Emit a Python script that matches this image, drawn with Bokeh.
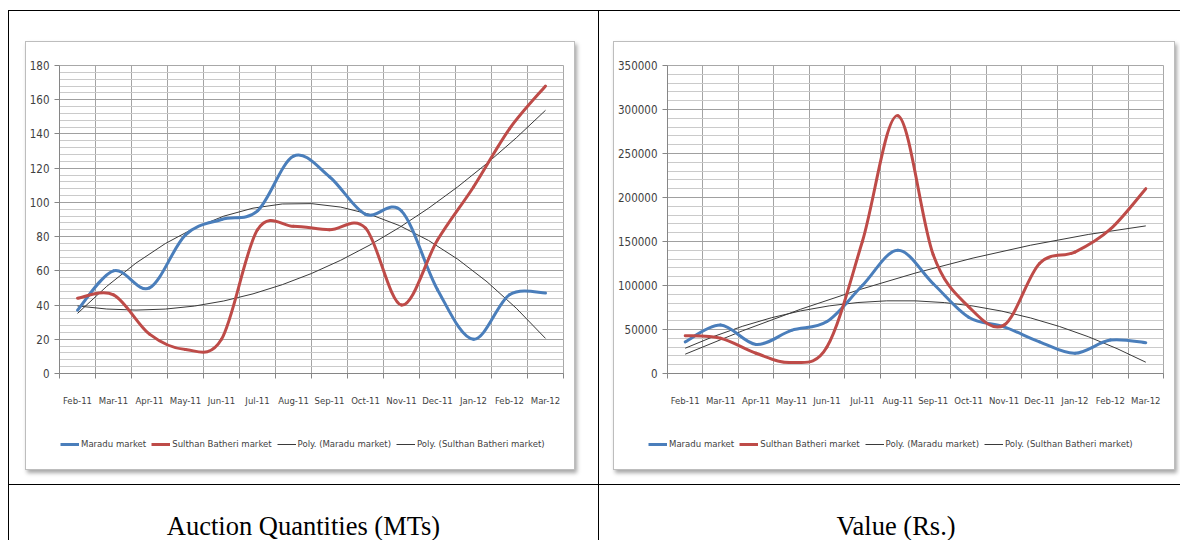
import numpy as np
from bokeh.plotting import figure
from bokeh.models import (ColumnDataSource, Range1d, FixedTicker, BasicTickFormatter,
                          Legend, LegendItem, Div)
from bokeh.layouts import column, row
from bokeh.embed import file_html
from bokeh.resources import INLINE

# ---- data -------------------------------------------------------------
months = ["Feb-11", "Mar-11", "Apr-11", "May-11", "Jun-11", "Jul-11", "Aug-11",
          "Sep-11", "Oct-11", "Nov-11", "Dec-11", "Jan-12", "Feb-12", "Mar-12"]

# auction quantities (MTs)
qty_maradu = [37, 60, 50, 81, 90, 95, 127, 115, 93, 95, 49, 20, 46, 47]
qty_sulthan = [44, 46, 23, 14, 20, 84, 86, 84, 85, 40, 78, 109, 143, 168]

# auction value (Rs.)
val_maradu = [36000, 55000, 33000, 49000, 59000, 100000, 140000, 102000,
              64000, 53000, 36000, 23000, 38000, 35000]
val_sulthan = [43000, 40000, 23000, 12500, 30000, 150000, 293000, 135000,
               76000, 55000, 125000, 138000, 164000, 210000]

series_names = ["Maradu market", "Sulthan Batheri market"]
trend_names = ["Poly. (Maradu market)", "Poly. (Sulthan Batheri market)"]
captions = ["Auction Quantities (MTs)", "Value (Rs.)"]

# ---- styling ----------------------------------------------------------
BLUE = "#4a7ebb"
RED = "#be4b48"
TREND = "#3a3a3a"
CHART_FONT = "DejaVu Sans Condensed"
TEXT = "#3f3f3f"
RULE = "1px solid #000000"
BOX = {"border": "1px solid #bdbdbd", "box-shadow": "2px 3px 4px rgba(0,0,0,0.35)",
       "background": "#ffffff"}


def smooth_source(values):
    """Cubic Bezier segments through every point (Excel-style smoothed line)."""
    xs = list(range(len(values)))
    n = len(xs)
    d = dict(x0=[], y0=[], x1=[], y1=[], cx0=[], cy0=[], cx1=[], cy1=[])
    for i in range(n - 1):
        a = max(i - 1, 0)
        b = min(i + 2, n - 1)
        d["x0"].append(xs[i])
        d["y0"].append(values[i])
        d["x1"].append(xs[i + 1])
        d["y1"].append(values[i + 1])
        d["cx0"].append(xs[i] + (xs[i + 1] - xs[a]) / 6)
        d["cy0"].append(values[i] + (values[i + 1] - values[a]) / 6)
        d["cx1"].append(xs[i + 1] - (xs[b] - xs[i]) / 6)
        d["cy1"].append(values[i + 1] - (values[b] - values[i]) / 6)
    return ColumnDataSource(d)


def trend_source(values):
    """Second-order polynomial trend, drawn as one exact quadratic Bezier."""
    xs = np.arange(len(values), dtype=float)
    c2, c1, c0 = np.polyfit(xs, np.asarray(values, dtype=float), 2)
    x0, x1 = xs[0], xs[-1]
    y0 = c2 * x0 ** 2 + c1 * x0 + c0
    y1 = c2 * x1 ** 2 + c1 * x1 + c0
    cx = (x0 + x1) / 2
    cy = y0 + (2 * c2 * x0 + c1) * (x1 - x0) / 2
    return ColumnDataSource(dict(x0=[x0], y0=[y0], x1=[x1], y1=[y1], cx=[cx], cy=[cy]))


def make_chart(maradu, sulthan, y_max, major, minor, width, border_left):
    n = len(months)
    p = figure(width=width, height=388,
               x_range=Range1d(-0.5, n - 0.5), y_range=Range1d(0, y_max),
               output_backend="svg", toolbar_location=None,
               min_border_left=border_left, min_border_right=11,
               min_border_top=23, min_border_bottom=57,
               background_fill_color="white", border_fill_color="white",
               outline_line_color="#a8a8a8", margin=0)

    # category axis: labels at the months, tick marks between them
    p.xaxis.ticker = FixedTicker(ticks=list(range(n)),
                                 minor_ticks=[i - 0.5 for i in range(n + 1)])
    p.xaxis.major_label_overrides = {i: m for i, m in enumerate(months)}
    p.xaxis.major_tick_out = 0
    p.xaxis.major_tick_in = 0
    p.xaxis.minor_tick_out = 5
    p.xaxis.minor_tick_in = 0
    p.xaxis.minor_tick_line_color = "#868686"
    p.xaxis.major_label_standoff = 16
    p.xaxis.major_label_text_font_size = "9.5px"

    p.yaxis.ticker = FixedTicker(ticks=list(range(0, y_max + 1, major)))
    p.yaxis.formatter = BasicTickFormatter(use_scientific=False)
    p.yaxis.major_tick_out = 5
    p.yaxis.major_tick_in = 0
    p.yaxis.minor_tick_out = 0
    p.yaxis.minor_tick_in = 0
    p.yaxis.major_tick_line_color = "#868686"
    p.yaxis.major_label_standoff = 5
    p.yaxis.major_label_text_font_size = "11.5px"

    for ax in (p.xaxis, p.yaxis):
        ax.axis_line_color = "#868686"
        ax.major_label_text_font = CHART_FONT
        ax.major_label_text_color = TEXT

    p.xgrid.ticker = FixedTicker(ticks=[i + 0.5 for i in range(n - 1)])
    p.xgrid.grid_line_color = "#a4a4a4"
    p.ygrid.ticker = FixedTicker(ticks=list(range(0, y_max + 1, major)),
                                 minor_ticks=list(range(0, y_max + 1, minor)))
    p.ygrid.grid_line_color = "#a0a0a0"
    p.ygrid.minor_grid_line_color = "#cacaca"

    p.quadratic(x0="x0", y0="y0", x1="x1", y1="y1", cx="cx", cy="cy",
                source=trend_source(maradu), line_color=TREND, line_width=1)
    p.quadratic(x0="x0", y0="y0", x1="x1", y1="y1", cx="cx", cy="cy",
                source=trend_source(sulthan), line_color=TREND, line_width=1)
    p.bezier(x0="x0", y0="y0", x1="x1", y1="y1", cx0="cx0", cy0="cy0",
             cx1="cx1", cy1="cy1", source=smooth_source(maradu),
             line_color=BLUE, line_width=3, line_cap="round")
    p.bezier(x0="x0", y0="y0", x1="x1", y1="y1", cx0="cx0", cy0="cy0",
             cx1="cx1", cy1="cy1", source=smooth_source(sulthan),
             line_color=RED, line_width=3, line_cap="round")
    return p


def make_legend_strip(width, lead, maradu, sulthan):
    """Strip under the chart holding the horizontal series legend.

    The swatch renderers carry the series but sit outside the strip's
    visible range, so only the legend itself shows."""
    n = len(months)
    lg = figure(width=width, height=39, x_range=Range1d(0, 1), y_range=Range1d(-2, -1),
                output_backend="svg", toolbar_location=None,
                x_axis_location=None, y_axis_location=None,
                min_border_left=lead, min_border_right=0, min_border_top=0,
                min_border_bottom=0, outline_line_color=None, margin=0,
                background_fill_color="white", border_fill_color="white")
    lg.grid.visible = False
    xs = list(range(n))
    swatches = [lg.line(x=xs, y=maradu, line_color=BLUE, line_width=3),
                lg.line(x=xs, y=sulthan, line_color=RED, line_width=3),
                lg.line(x=xs, y=maradu, line_color=TREND, line_width=1),
                lg.line(x=xs, y=sulthan, line_color=TREND, line_width=1)]
    labels = series_names + trend_names
    legend = Legend(items=[LegendItem(label=t, renderers=[r]) for t, r in zip(labels, swatches)],
                    orientation="horizontal", location=(0, 20),
                    label_text_font=CHART_FONT, label_text_font_size="9.5px",
                    label_text_color=TEXT, glyph_width=19, glyph_height=10,
                    label_standoff=2, spacing=5, padding=0, margin=0,
                    border_line_color=None, background_fill_alpha=0)
    lg.add_layout(legend)
    # own container, so its frame is placed independently of the chart above
    return row(lg, margin=0)


p_qty = make_chart(qty_maradu, qty_sulthan, 180, 20, 4, 548, 31)
p_val = make_chart(val_maradu, val_sulthan, 350000, 50000, 10000, 560, 53)

box_qty = column(p_qty, make_legend_strip(548, 34, qty_maradu, qty_sulthan),
                 margin=(30, 23, 14, 16), styles=BOX)
box_val = column(p_val, make_legend_strip(560, 34, val_maradu, val_sulthan),
                 margin=(30, 5, 14, 14), styles=BOX)

left_cell = column(box_qty, styles={"border-left": RULE, "border-top": RULE, "border-right": RULE})
right_cell = column(box_val, styles={"border-top": RULE})

cap_styles = {"text-align": "center", "font-family": "Liberation Serif",
              "font-size": "26.5px", "line-height": "1", "color": "#000000",
              "padding-top": "28px", "box-sizing": "border-box", "white-space": "nowrap"}
cap_left = Div(text=captions[0], width=591, height=56, margin=0,
               styles=dict(cap_styles, **{"border-left": RULE, "border-right": RULE,
                                          "border-top": RULE}))
cap_right = Div(text=captions[1], width=581, height=56, margin=0,
                styles=dict(cap_styles, **{"border-top": RULE, "padding-left": "13px"}))

page = column(row(left_cell, right_cell), row(cap_left, cap_right), margin=(10, 0, 0, 8))

with open("out.html", "w") as f:
    f.write(file_html(page, INLINE))
